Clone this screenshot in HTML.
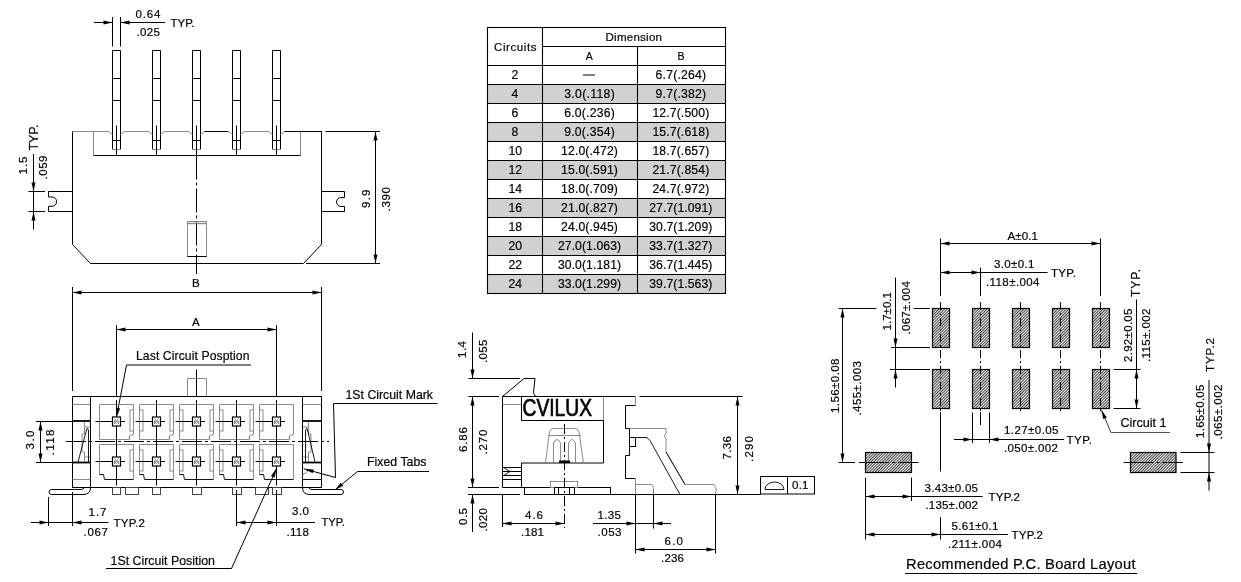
<!DOCTYPE html>
<html><head><meta charset="utf-8"><style>
html,body{margin:0;padding:0;background:#fff;}
svg{display:block;will-change:transform;}
text{font-family:"Liberation Sans",sans-serif;stroke:#000;stroke-width:0.18px;}
</style></head><body>
<svg width="1241" height="582" viewBox="0 0 1241 582">
<defs>
<pattern id="hatch" patternUnits="userSpaceOnUse" width="2" height="2" patternTransform="rotate(45)">
<rect width="2" height="2" fill="#f2f2f2"/>
<rect x="0" y="0" width="0.95" height="2" fill="#3a3a3a"/>
</pattern>
</defs>
<rect width="1241" height="582" fill="#fff"/>
<line x1="112.5" y1="50.5" x2="120.5" y2="50.5" stroke="#000" stroke-width="1"/>
<line x1="112.5" y1="50.5" x2="112.5" y2="149.5" stroke="#000" stroke-width="1"/>
<line x1="120.5" y1="50.5" x2="120.5" y2="149.5" stroke="#000" stroke-width="1"/>
<line x1="112.5" y1="78.5" x2="120.5" y2="78.5" stroke="#000" stroke-width="1"/>
<line x1="112.5" y1="100.5" x2="120.5" y2="100.5" stroke="#000" stroke-width="1"/>
<line x1="112.5" y1="140.5" x2="120.5" y2="140.5" stroke="#000" stroke-width="1"/>
<line x1="112.5" y1="149.5" x2="120.5" y2="149.5" stroke="#8a8a8a" stroke-width="1"/>
<line x1="116.5" y1="125.5" x2="116.5" y2="155" stroke="#000" stroke-width="1"/>
<line x1="108.5" y1="131.5" x2="112.5" y2="134.5" stroke="#8a8a8a" stroke-width="1"/>
<line x1="124.5" y1="131.5" x2="120.5" y2="134.5" stroke="#8a8a8a" stroke-width="1"/>
<line x1="152.5" y1="50.5" x2="160.5" y2="50.5" stroke="#000" stroke-width="1"/>
<line x1="152.5" y1="50.5" x2="152.5" y2="149.5" stroke="#000" stroke-width="1"/>
<line x1="160.5" y1="50.5" x2="160.5" y2="149.5" stroke="#000" stroke-width="1"/>
<line x1="152.5" y1="78.5" x2="160.5" y2="78.5" stroke="#000" stroke-width="1"/>
<line x1="152.5" y1="100.5" x2="160.5" y2="100.5" stroke="#000" stroke-width="1"/>
<line x1="152.5" y1="140.5" x2="160.5" y2="140.5" stroke="#000" stroke-width="1"/>
<line x1="152.5" y1="149.5" x2="160.5" y2="149.5" stroke="#8a8a8a" stroke-width="1"/>
<line x1="156.5" y1="125.5" x2="156.5" y2="155" stroke="#000" stroke-width="1"/>
<line x1="148.5" y1="131.5" x2="152.5" y2="134.5" stroke="#8a8a8a" stroke-width="1"/>
<line x1="164.5" y1="131.5" x2="160.5" y2="134.5" stroke="#8a8a8a" stroke-width="1"/>
<line x1="192.5" y1="50.5" x2="200.5" y2="50.5" stroke="#000" stroke-width="1"/>
<line x1="192.5" y1="50.5" x2="192.5" y2="149.5" stroke="#000" stroke-width="1"/>
<line x1="200.5" y1="50.5" x2="200.5" y2="149.5" stroke="#000" stroke-width="1"/>
<line x1="192.5" y1="78.5" x2="200.5" y2="78.5" stroke="#000" stroke-width="1"/>
<line x1="192.5" y1="100.5" x2="200.5" y2="100.5" stroke="#000" stroke-width="1"/>
<line x1="192.5" y1="140.5" x2="200.5" y2="140.5" stroke="#000" stroke-width="1"/>
<line x1="192.5" y1="149.5" x2="200.5" y2="149.5" stroke="#8a8a8a" stroke-width="1"/>
<line x1="196.5" y1="125.5" x2="196.5" y2="155" stroke="#000" stroke-width="1"/>
<line x1="188.5" y1="131.5" x2="192.5" y2="134.5" stroke="#8a8a8a" stroke-width="1"/>
<line x1="204.5" y1="131.5" x2="200.5" y2="134.5" stroke="#8a8a8a" stroke-width="1"/>
<line x1="232.5" y1="50.5" x2="240.5" y2="50.5" stroke="#000" stroke-width="1"/>
<line x1="232.5" y1="50.5" x2="232.5" y2="149.5" stroke="#000" stroke-width="1"/>
<line x1="240.5" y1="50.5" x2="240.5" y2="149.5" stroke="#000" stroke-width="1"/>
<line x1="232.5" y1="78.5" x2="240.5" y2="78.5" stroke="#000" stroke-width="1"/>
<line x1="232.5" y1="100.5" x2="240.5" y2="100.5" stroke="#000" stroke-width="1"/>
<line x1="232.5" y1="140.5" x2="240.5" y2="140.5" stroke="#000" stroke-width="1"/>
<line x1="232.5" y1="149.5" x2="240.5" y2="149.5" stroke="#8a8a8a" stroke-width="1"/>
<line x1="236.5" y1="125.5" x2="236.5" y2="155" stroke="#000" stroke-width="1"/>
<line x1="228.5" y1="131.5" x2="232.5" y2="134.5" stroke="#8a8a8a" stroke-width="1"/>
<line x1="244.5" y1="131.5" x2="240.5" y2="134.5" stroke="#8a8a8a" stroke-width="1"/>
<line x1="272.5" y1="50.5" x2="280.5" y2="50.5" stroke="#000" stroke-width="1"/>
<line x1="272.5" y1="50.5" x2="272.5" y2="149.5" stroke="#000" stroke-width="1"/>
<line x1="280.5" y1="50.5" x2="280.5" y2="149.5" stroke="#000" stroke-width="1"/>
<line x1="272.5" y1="78.5" x2="280.5" y2="78.5" stroke="#000" stroke-width="1"/>
<line x1="272.5" y1="100.5" x2="280.5" y2="100.5" stroke="#000" stroke-width="1"/>
<line x1="272.5" y1="140.5" x2="280.5" y2="140.5" stroke="#000" stroke-width="1"/>
<line x1="272.5" y1="149.5" x2="280.5" y2="149.5" stroke="#8a8a8a" stroke-width="1"/>
<line x1="276.5" y1="125.5" x2="276.5" y2="155" stroke="#000" stroke-width="1"/>
<line x1="268.5" y1="131.5" x2="272.5" y2="134.5" stroke="#8a8a8a" stroke-width="1"/>
<line x1="284.5" y1="131.5" x2="280.5" y2="134.5" stroke="#8a8a8a" stroke-width="1"/>
<line x1="72.5" y1="131.5" x2="108.5" y2="131.5" stroke="#8a8a8a" stroke-width="1"/>
<line x1="124.5" y1="131.5" x2="148.5" y2="131.5" stroke="#8a8a8a" stroke-width="1"/>
<line x1="164.5" y1="131.5" x2="188.5" y2="131.5" stroke="#8a8a8a" stroke-width="1"/>
<line x1="204.5" y1="131.5" x2="228.5" y2="131.5" stroke="#000" stroke-width="1"/>
<line x1="244.5" y1="131.5" x2="268.5" y2="131.5" stroke="#8a8a8a" stroke-width="1"/>
<line x1="284.5" y1="131.5" x2="322" y2="131.5" stroke="#000" stroke-width="1"/>
<line x1="93.5" y1="131.5" x2="93.5" y2="155.5" stroke="#8a8a8a" stroke-width="1"/>
<line x1="300.5" y1="131.5" x2="300.5" y2="155.5" stroke="#8a8a8a" stroke-width="1"/>
<line x1="93.5" y1="155.5" x2="300.5" y2="155.5" stroke="#000" stroke-width="1"/>
<polyline points="72.5,131.5 72.5,244.5 90.5,263.5 303.5,263.5 321.5,244.5 321.5,131.5" fill="none" stroke="#000" stroke-width="1"/>
<path d="M72.5,191.5 L48.5,191.5 L48.5,197 L52,197 A4.6,4.6 0 0 1 52,206.3 L48.5,206.3 L48.5,211.5 L72.5,211.5" fill="none" stroke="#000" stroke-width="1" />
<path d="M321.5,191.5 L344.5,191.5 L344.5,197.5 L341,197.5 A4.5,4.5 0 0 0 341,206.5 L344.5,206.5 L344.5,211.5 L321.5,211.5" fill="none" stroke="#000" stroke-width="1" />
<line x1="196.5" y1="155.5" x2="196.5" y2="274" stroke="#000" stroke-width="1" stroke-dasharray="24,3,3,3"/>
<rect x="187.5" y="221.5" width="19" height="35" fill="none" stroke="#8a8a8a" stroke-width="1"/>
<line x1="187.5" y1="223.5" x2="206.5" y2="223.5" stroke="#8a8a8a" stroke-width="1.5"/>
<line x1="187.5" y1="256.5" x2="206.5" y2="256.5" stroke="#000" stroke-width="1"/>
<line x1="112.5" y1="17" x2="112.5" y2="46.5" stroke="#000" stroke-width="1"/>
<line x1="120.5" y1="17" x2="120.5" y2="46.5" stroke="#000" stroke-width="1"/>
<line x1="94" y1="22.5" x2="112.5" y2="22.5" stroke="#000" stroke-width="1"/>
<line x1="120.5" y1="22.5" x2="165" y2="22.5" stroke="#000" stroke-width="1"/>
<polygon points="112.5,22.5 103.50,24.50 103.50,20.50" fill="#000"/>
<polygon points="120.5,22.5 129.50,20.50 129.50,24.50" fill="#000"/>
<text x="135.5" y="17.5" font-size="11.55" fill="#000" textLength="25.0" lengthAdjust="spacing">0.64</text>
<text x="136.5" y="35.5" font-size="11.55" fill="#000" textLength="23.5" lengthAdjust="spacing">.025</text>
<text x="170.5" y="26.5" font-size="11.55" fill="#000" textLength="24.0" lengthAdjust="spacingAndGlyphs">TYP.</text>
<line x1="28.5" y1="191.5" x2="45" y2="191.5" stroke="#000" stroke-width="1"/>
<line x1="28.5" y1="211.5" x2="45" y2="211.5" stroke="#000" stroke-width="1"/>
<line x1="33.5" y1="154" x2="33.5" y2="229.5" stroke="#000" stroke-width="1"/>
<polygon points="33.5,191.5 31.50,182.50 35.50,182.50" fill="#000"/>
<polygon points="33.5,211.5 35.50,220.50 31.50,220.50" fill="#000"/>
<text transform="translate(27.2,174.5) rotate(-90)" x="0" y="0" font-size="11.55" fill="#000" textLength="18.0" lengthAdjust="spacing">1.5</text>
<text transform="translate(47.2,179.5) rotate(-90)" x="0" y="0" font-size="11.55" fill="#000" textLength="24.0" lengthAdjust="spacing">.059</text>
<text transform="translate(37.7,150.5) rotate(-90)" x="0" y="0" font-size="12.600000000000001" fill="#000" textLength="26.0" lengthAdjust="spacingAndGlyphs">TYP.</text>
<line x1="325.5" y1="131.5" x2="380" y2="131.5" stroke="#000" stroke-width="1"/>
<line x1="306" y1="263.5" x2="380" y2="263.5" stroke="#000" stroke-width="1"/>
<line x1="375.5" y1="131.5" x2="375.5" y2="263.5" stroke="#000" stroke-width="1"/>
<polygon points="375.5,131.5 377.50,140.50 373.50,140.50" fill="#000"/>
<polygon points="375.5,263.5 373.50,254.50 377.50,254.50" fill="#000"/>
<text transform="translate(369.7,208.0) rotate(-90)" x="0" y="0" font-size="11.55" fill="#000" textLength="18.5" lengthAdjust="spacing">9.9</text>
<text transform="translate(389.7,211.5) rotate(-90)" x="0" y="0" font-size="11.55" fill="#000" textLength="24.5" lengthAdjust="spacing">.390</text>
<line x1="72.5" y1="287" x2="72.5" y2="391" stroke="#000" stroke-width="1"/>
<line x1="321.5" y1="287" x2="321.5" y2="391" stroke="#000" stroke-width="1"/>
<line x1="72.5" y1="292.5" x2="321.5" y2="292.5" stroke="#000" stroke-width="1"/>
<polygon points="72.5,292.5 81.50,290.50 81.50,294.50" fill="#000"/>
<polygon points="321.5,292.5 312.50,294.50 312.50,290.50" fill="#000"/>
<text x="192.0" y="287.0" font-size="11.55" fill="#000" textLength="8.0" lengthAdjust="spacing">B</text>
<line x1="116.5" y1="325" x2="116.5" y2="396.5" stroke="#000" stroke-width="1"/>
<line x1="276.5" y1="325" x2="276.5" y2="396.5" stroke="#000" stroke-width="1"/>
<line x1="116.5" y1="329.5" x2="276.5" y2="329.5" stroke="#000" stroke-width="1"/>
<polygon points="116.5,329.5 125.50,327.50 125.50,331.50" fill="#000"/>
<polygon points="276.5,329.5 267.50,331.50 267.50,327.50" fill="#000"/>
<text x="192.0" y="326.0" font-size="11.55" fill="#000" textLength="8.5" lengthAdjust="spacing">A</text>
<text x="136.0" y="360.3" font-size="12.18" fill="#000" textLength="113.5" lengthAdjust="spacing">Last Circuit Posption</text>
<line x1="126.5" y1="365" x2="251" y2="365" stroke="#000" stroke-width="1"/>
<line x1="126.5" y1="365" x2="116.5" y2="417" stroke="#000" stroke-width="1"/>
<polygon points="116.5,417 116.24,407.78 120.16,408.54" fill="#000"/>
<line x1="187.5" y1="396.5" x2="187.5" y2="378.5" stroke="#8a8a8a" stroke-width="1"/>
<line x1="187.5" y1="378.5" x2="206.5" y2="378.5" stroke="#8a8a8a" stroke-width="1"/>
<line x1="206.5" y1="378.5" x2="206.5" y2="396.5" stroke="#8a8a8a" stroke-width="1"/>
<line x1="196.5" y1="369.5" x2="196.5" y2="396.5" stroke="#000" stroke-width="1"/>
<rect x="72.5" y="396.5" width="249" height="91" fill="none" stroke="#000" stroke-width="1"/>
<line x1="90.5" y1="396.5" x2="90.5" y2="487.5" stroke="#000" stroke-width="1"/>
<line x1="302.5" y1="396.5" x2="302.5" y2="487.5" stroke="#000" stroke-width="1"/>
<line x1="72.5" y1="404.5" x2="90.5" y2="404.5" stroke="#8a8a8a" stroke-width="1"/>
<line x1="302.5" y1="404.5" x2="321.5" y2="404.5" stroke="#8a8a8a" stroke-width="1"/>
<line x1="72.5" y1="421" x2="90.5" y2="421" stroke="#000" stroke-width="1.8"/>
<line x1="302.5" y1="421" x2="321.5" y2="421" stroke="#000" stroke-width="1.8"/>
<line x1="72.5" y1="462.5" x2="90.5" y2="462.5" stroke="#000" stroke-width="1.8"/>
<line x1="302.5" y1="462.5" x2="321.5" y2="462.5" stroke="#000" stroke-width="1.8"/>
<line x1="72.5" y1="479.5" x2="90.5" y2="479.5" stroke="#8a8a8a" stroke-width="1"/>
<line x1="302.5" y1="479.5" x2="321.5" y2="479.5" stroke="#8a8a8a" stroke-width="1"/>
<path d="M84.5,422 L84.5,434 L82,434 L82,452 L84.5,452 L84.5,462 M84.5,427 L90,427 M84.5,457 L90,457" fill="none" stroke="#8a8a8a" stroke-width="1" />
<path d="M78,462 L86.5,430 Q87.5,426 88.5,431 L88.5,462" fill="none" stroke="#000" stroke-width="0.9" />
<path d="M308.5,422 L308.5,434 L311,434 L311,452 L308.5,452 L308.5,462 M303,427 L308.5,427 M303,457 L308.5,457" fill="none" stroke="#8a8a8a" stroke-width="1" />
<path d="M305.5,462 L305.5,431 Q306.5,426 307.5,430 L315,462" fill="none" stroke="#000" stroke-width="0.9" />
<path d="M99.5,404.5 L133.5,404.5 L133.5,434.5 L129.5,435.5 L129.5,439.5 L99.5,439.5 Z" fill="none" stroke="#8a8a8a" stroke-width="1" />
<path d="M99.5,474.5 L99.5,444.5 L133.5,444.5 L133.5,479.5" fill="none" stroke="#8a8a8a" stroke-width="1" />
<path d="M133.5,479.5 L104.5,479.5 L103.5,474.5 L99.5,474.5" fill="none" stroke="#111" stroke-width="1" />
<rect x="130.0" y="410" width="3.5" height="21" fill="none" stroke="#8a8a8a" stroke-width="1"/>
<rect x="130.0" y="450" width="3.5" height="21" fill="none" stroke="#8a8a8a" stroke-width="1"/>
<line x1="116.5" y1="400" x2="116.5" y2="485.5" stroke="#000" stroke-width="1"/>
<line x1="95.5" y1="421.5" x2="112.5" y2="421.5" stroke="#000" stroke-width="1"/>
<line x1="120.5" y1="421.5" x2="125.0" y2="421.5" stroke="#000" stroke-width="1"/>
<rect x="112.5" y="417.0" width="8" height="9" fill="#fff" stroke="#000" stroke-width="1.2"/>
<path d="M114.5,419.0 L116.5,420.5 L118.5,419.0 M114.5,424.0 L114.5,420.5 M118.5,424.0 L118.5,420.5" fill="none" stroke="#444" stroke-width="0.6" />
<rect x="115.5" y="421.0" width="2" height="2" fill="none" stroke="#555" stroke-width="0.5"/>
<line x1="95.5" y1="461.5" x2="112.5" y2="461.5" stroke="#000" stroke-width="1"/>
<line x1="120.5" y1="461.5" x2="125.0" y2="461.5" stroke="#000" stroke-width="1"/>
<rect x="112.5" y="457.0" width="8" height="9" fill="#fff" stroke="#000" stroke-width="1.2"/>
<path d="M114.5,459.0 L116.5,460.5 L118.5,459.0 M114.5,464.0 L114.5,460.5 M118.5,464.0 L118.5,460.5" fill="none" stroke="#444" stroke-width="0.6" />
<rect x="115.5" y="461.0" width="2" height="2" fill="none" stroke="#555" stroke-width="0.5"/>
<path d="M139.5,404.5 L173.5,404.5 L173.5,434.5 L169.5,435.5 L169.5,439.5 L139.5,439.5 Z" fill="none" stroke="#8a8a8a" stroke-width="1" />
<path d="M139.5,474.5 L139.5,444.5 L173.5,444.5 L173.5,479.5" fill="none" stroke="#8a8a8a" stroke-width="1" />
<path d="M173.5,479.5 L144.5,479.5 L143.5,474.5 L139.5,474.5" fill="none" stroke="#111" stroke-width="1" />
<rect x="170.0" y="410" width="3.5" height="21" fill="none" stroke="#8a8a8a" stroke-width="1"/>
<rect x="170.0" y="450" width="3.5" height="21" fill="none" stroke="#8a8a8a" stroke-width="1"/>
<rect x="139.5" y="410" width="3.5" height="21" fill="none" stroke="#8a8a8a" stroke-width="1"/>
<rect x="139.5" y="450" width="3.5" height="21" fill="none" stroke="#8a8a8a" stroke-width="1"/>
<line x1="156.5" y1="400" x2="156.5" y2="485.5" stroke="#000" stroke-width="1"/>
<line x1="135.5" y1="421.5" x2="152.5" y2="421.5" stroke="#000" stroke-width="1"/>
<line x1="160.5" y1="421.5" x2="165.0" y2="421.5" stroke="#000" stroke-width="1"/>
<rect x="152.5" y="417.0" width="8" height="9" fill="#fff" stroke="#000" stroke-width="1.2"/>
<path d="M154.5,419.0 L156.5,420.5 L158.5,419.0 M154.5,424.0 L154.5,420.5 M158.5,424.0 L158.5,420.5" fill="none" stroke="#444" stroke-width="0.6" />
<rect x="155.5" y="421.0" width="2" height="2" fill="none" stroke="#555" stroke-width="0.5"/>
<line x1="135.5" y1="461.5" x2="152.5" y2="461.5" stroke="#000" stroke-width="1"/>
<line x1="160.5" y1="461.5" x2="165.0" y2="461.5" stroke="#000" stroke-width="1"/>
<rect x="152.5" y="457.0" width="8" height="9" fill="#fff" stroke="#000" stroke-width="1.2"/>
<path d="M154.5,459.0 L156.5,460.5 L158.5,459.0 M154.5,464.0 L154.5,460.5 M158.5,464.0 L158.5,460.5" fill="none" stroke="#444" stroke-width="0.6" />
<rect x="155.5" y="461.0" width="2" height="2" fill="none" stroke="#555" stroke-width="0.5"/>
<path d="M179.5,404.5 L213.5,404.5 L213.5,434.5 L209.5,435.5 L209.5,439.5 L179.5,439.5 Z" fill="none" stroke="#8a8a8a" stroke-width="1" />
<path d="M179.5,474.5 L179.5,444.5 L213.5,444.5 L213.5,479.5" fill="none" stroke="#8a8a8a" stroke-width="1" />
<path d="M213.5,479.5 L184.5,479.5 L183.5,474.5 L179.5,474.5" fill="none" stroke="#111" stroke-width="1" />
<rect x="210.0" y="410" width="3.5" height="21" fill="none" stroke="#8a8a8a" stroke-width="1"/>
<rect x="210.0" y="450" width="3.5" height="21" fill="none" stroke="#8a8a8a" stroke-width="1"/>
<rect x="179.5" y="410" width="3.5" height="21" fill="none" stroke="#8a8a8a" stroke-width="1"/>
<rect x="179.5" y="450" width="3.5" height="21" fill="none" stroke="#8a8a8a" stroke-width="1"/>
<line x1="196.5" y1="400" x2="196.5" y2="485.5" stroke="#000" stroke-width="1"/>
<line x1="175.5" y1="421.5" x2="192.5" y2="421.5" stroke="#000" stroke-width="1"/>
<line x1="200.5" y1="421.5" x2="205.0" y2="421.5" stroke="#000" stroke-width="1"/>
<rect x="192.5" y="417.0" width="8" height="9" fill="#fff" stroke="#000" stroke-width="1.2"/>
<path d="M194.5,419.0 L196.5,420.5 L198.5,419.0 M194.5,424.0 L194.5,420.5 M198.5,424.0 L198.5,420.5" fill="none" stroke="#444" stroke-width="0.6" />
<rect x="195.5" y="421.0" width="2" height="2" fill="none" stroke="#555" stroke-width="0.5"/>
<line x1="175.5" y1="461.5" x2="192.5" y2="461.5" stroke="#000" stroke-width="1"/>
<line x1="200.5" y1="461.5" x2="205.0" y2="461.5" stroke="#000" stroke-width="1"/>
<rect x="192.5" y="457.0" width="8" height="9" fill="#fff" stroke="#000" stroke-width="1.2"/>
<path d="M194.5,459.0 L196.5,460.5 L198.5,459.0 M194.5,464.0 L194.5,460.5 M198.5,464.0 L198.5,460.5" fill="none" stroke="#444" stroke-width="0.6" />
<rect x="195.5" y="461.0" width="2" height="2" fill="none" stroke="#555" stroke-width="0.5"/>
<path d="M219.5,404.5 L253.5,404.5 L253.5,434.5 L249.5,435.5 L249.5,439.5 L219.5,439.5 Z" fill="none" stroke="#8a8a8a" stroke-width="1" />
<path d="M219.5,474.5 L219.5,444.5 L253.5,444.5 L253.5,479.5" fill="none" stroke="#8a8a8a" stroke-width="1" />
<path d="M253.5,479.5 L224.5,479.5 L223.5,474.5 L219.5,474.5" fill="none" stroke="#111" stroke-width="1" />
<rect x="250.0" y="410" width="3.5" height="21" fill="none" stroke="#8a8a8a" stroke-width="1"/>
<rect x="250.0" y="450" width="3.5" height="21" fill="none" stroke="#8a8a8a" stroke-width="1"/>
<rect x="219.5" y="410" width="3.5" height="21" fill="none" stroke="#8a8a8a" stroke-width="1"/>
<rect x="219.5" y="450" width="3.5" height="21" fill="none" stroke="#8a8a8a" stroke-width="1"/>
<line x1="236.5" y1="400" x2="236.5" y2="485.5" stroke="#000" stroke-width="1"/>
<line x1="215.5" y1="421.5" x2="232.5" y2="421.5" stroke="#000" stroke-width="1"/>
<line x1="240.5" y1="421.5" x2="245.0" y2="421.5" stroke="#000" stroke-width="1"/>
<rect x="232.5" y="417.0" width="8" height="9" fill="#fff" stroke="#000" stroke-width="1.2"/>
<path d="M234.5,419.0 L236.5,420.5 L238.5,419.0 M234.5,424.0 L234.5,420.5 M238.5,424.0 L238.5,420.5" fill="none" stroke="#444" stroke-width="0.6" />
<rect x="235.5" y="421.0" width="2" height="2" fill="none" stroke="#555" stroke-width="0.5"/>
<line x1="215.5" y1="461.5" x2="232.5" y2="461.5" stroke="#000" stroke-width="1"/>
<line x1="240.5" y1="461.5" x2="245.0" y2="461.5" stroke="#000" stroke-width="1"/>
<rect x="232.5" y="457.0" width="8" height="9" fill="#fff" stroke="#000" stroke-width="1.2"/>
<path d="M234.5,459.0 L236.5,460.5 L238.5,459.0 M234.5,464.0 L234.5,460.5 M238.5,464.0 L238.5,460.5" fill="none" stroke="#444" stroke-width="0.6" />
<rect x="235.5" y="461.0" width="2" height="2" fill="none" stroke="#555" stroke-width="0.5"/>
<path d="M259.5,404.5 L293.5,404.5 L293.5,434.5 L289.5,435.5 L289.5,439.5 L259.5,439.5 Z" fill="none" stroke="#8a8a8a" stroke-width="1" />
<path d="M259.5,474.5 L259.5,444.5 L293.5,444.5 L293.5,479.5" fill="none" stroke="#8a8a8a" stroke-width="1" />
<path d="M293.5,479.5 L264.5,479.5 L263.5,474.5 L259.5,474.5" fill="none" stroke="#111" stroke-width="1" />
<rect x="259.5" y="410" width="3.5" height="21" fill="none" stroke="#8a8a8a" stroke-width="1"/>
<rect x="259.5" y="450" width="3.5" height="21" fill="none" stroke="#8a8a8a" stroke-width="1"/>
<line x1="276.5" y1="400" x2="276.5" y2="485.5" stroke="#000" stroke-width="1"/>
<line x1="255.5" y1="421.5" x2="272.5" y2="421.5" stroke="#000" stroke-width="1"/>
<line x1="280.5" y1="421.5" x2="285.0" y2="421.5" stroke="#000" stroke-width="1"/>
<rect x="272.5" y="417.0" width="8" height="9" fill="#fff" stroke="#000" stroke-width="1.2"/>
<path d="M274.5,419.0 L276.5,420.5 L278.5,419.0 M274.5,424.0 L274.5,420.5 M278.5,424.0 L278.5,420.5" fill="none" stroke="#444" stroke-width="0.6" />
<rect x="275.5" y="421.0" width="2" height="2" fill="none" stroke="#555" stroke-width="0.5"/>
<line x1="255.5" y1="461.5" x2="272.5" y2="461.5" stroke="#000" stroke-width="1"/>
<line x1="280.5" y1="461.5" x2="285.0" y2="461.5" stroke="#000" stroke-width="1"/>
<rect x="272.5" y="457.0" width="8" height="9" fill="#fff" stroke="#000" stroke-width="1.2"/>
<path d="M274.5,459.0 L276.5,460.5 L278.5,459.0 M274.5,464.0 L274.5,460.5 M278.5,464.0 L278.5,460.5" fill="none" stroke="#444" stroke-width="0.6" />
<rect x="275.5" y="461.0" width="2" height="2" fill="none" stroke="#555" stroke-width="0.5"/>
<line x1="66" y1="441.5" x2="329" y2="441.5" stroke="#000" stroke-width="1" stroke-dasharray="20,3,3,3"/>
<rect x="112.5" y="487.5" width="8.0" height="7" fill="none" stroke="#444" stroke-width="1"/>
<rect x="125.5" y="487.5" width="13.0" height="7" fill="none" stroke="#444" stroke-width="1"/>
<rect x="152.5" y="487.5" width="8.0" height="7" fill="none" stroke="#444" stroke-width="1"/>
<rect x="192.5" y="487.5" width="9.0" height="7" fill="none" stroke="#444" stroke-width="1"/>
<rect x="232.5" y="487.5" width="9.0" height="7" fill="none" stroke="#444" stroke-width="1"/>
<rect x="255.5" y="487.5" width="13.0" height="7" fill="none" stroke="#444" stroke-width="1"/>
<rect x="272.5" y="487.5" width="9.0" height="7" fill="none" stroke="#444" stroke-width="1"/>
<path d="M90.5,487.5 Q90.5,494.5 83,494.5 L51.5,494.5 A2.4,2.4 0 0 1 51.5,489.5 L81,489.5 Q83,489.5 84.5,487.5" fill="none" stroke="#000" stroke-width="1" />
<path d="M302.5,487.5 Q302.5,494.5 310,494.5 L341,494.5 A2.5,2.5 0 0 0 341,489.5 L312,489.5 Q310,489.5 308.5,487.5" fill="none" stroke="#000" stroke-width="1" />
<line x1="302.5" y1="479.5" x2="321.5" y2="479.5" stroke="#000" stroke-width="1"/>
<polyline points="302.5,467 308,471 302.5,475" fill="none" stroke="#8a8a8a" stroke-width="1"/>
<line x1="36" y1="421.5" x2="72.5" y2="421.5" stroke="#000" stroke-width="1"/>
<line x1="36" y1="462.5" x2="72.5" y2="462.5" stroke="#000" stroke-width="1"/>
<line x1="40.5" y1="421.5" x2="40.5" y2="462.5" stroke="#000" stroke-width="1"/>
<polygon points="40.5,421.5 42.50,430.50 38.50,430.50" fill="#000"/>
<polygon points="40.5,462.5 38.50,453.50 42.50,453.50" fill="#000"/>
<text transform="translate(34.2,449.5) rotate(-90)" x="0" y="0" font-size="11.55" fill="#000" textLength="19.0" lengthAdjust="spacing">3.0</text>
<text transform="translate(54.2,455.5) rotate(-90)" x="0" y="0" font-size="11.55" fill="#000" textLength="26.0" lengthAdjust="spacing">.118</text>
<line x1="48.5" y1="497" x2="48.5" y2="526" stroke="#000" stroke-width="1"/>
<line x1="72.5" y1="492" x2="72.5" y2="526" stroke="#000" stroke-width="1"/>
<line x1="31" y1="522.5" x2="108.5" y2="522.5" stroke="#000" stroke-width="1"/>
<polygon points="48.5,522.5 39.50,524.50 39.50,520.50" fill="#000"/>
<polygon points="72.5,522.5 81.50,520.50 81.50,524.50" fill="#000"/>
<text x="88.5" y="516.0" font-size="11.55" fill="#000" textLength="18.0" lengthAdjust="spacing">1.7</text>
<text x="83.5" y="535.5" font-size="11.55" fill="#000" textLength="24.5" lengthAdjust="spacing">.067</text>
<text x="113.5" y="526.5" font-size="11.55" fill="#000" textLength="31.5" lengthAdjust="spacing">TYP.2</text>
<line x1="236.5" y1="490" x2="236.5" y2="526" stroke="#000" stroke-width="1"/>
<line x1="276.5" y1="490" x2="276.5" y2="526" stroke="#000" stroke-width="1"/>
<line x1="236.5" y1="522.5" x2="315" y2="522.5" stroke="#000" stroke-width="1"/>
<polygon points="236.5,522.5 245.50,520.50 245.50,524.50" fill="#000"/>
<polygon points="276.5,522.5 267.50,524.50 267.50,520.50" fill="#000"/>
<text x="292.0" y="515.0" font-size="11.55" fill="#000" textLength="17.0" lengthAdjust="spacing">3.0</text>
<text x="286.5" y="535.5" font-size="11.55" fill="#000" textLength="22.5" lengthAdjust="spacing">.118</text>
<text x="321.5" y="525.5" font-size="11.55" fill="#000" textLength="23.5" lengthAdjust="spacingAndGlyphs">TYP.</text>
<text x="110.5" y="564.5" font-size="12.600000000000001" fill="#000" textLength="104.5" lengthAdjust="spacingAndGlyphs">1St Circuit Position</text>
<line x1="106" y1="568.5" x2="231.5" y2="568.5" stroke="#000" stroke-width="1"/>
<line x1="231.5" y1="568.5" x2="276.5" y2="468.5" stroke="#000" stroke-width="1"/>
<polygon points="276.5,468.5 274.63,477.53 270.98,475.89" fill="#000"/>
<text x="345.5" y="398.5" font-size="12.600000000000001" fill="#000" textLength="87.5" lengthAdjust="spacingAndGlyphs">1St Circuit Mark</text>
<line x1="333.5" y1="403.5" x2="437.5" y2="403.5" stroke="#000" stroke-width="1"/>
<polyline points="333.5,403.5 335.5,477.5 304.5,469" fill="none" stroke="#000" stroke-width="1"/>
<polygon points="304.5,469 313.71,469.45 312.65,473.31" fill="#000"/>
<text x="367.0" y="466.0" font-size="12.600000000000001" fill="#000" textLength="59.5" lengthAdjust="spacingAndGlyphs">Fixed Tabs</text>
<line x1="357.5" y1="471.5" x2="429" y2="471.5" stroke="#000" stroke-width="1"/>
<line x1="357.5" y1="471.5" x2="335" y2="490" stroke="#000" stroke-width="1"/>
<polygon points="335,490 340.68,482.74 343.22,485.83" fill="#000"/>
<rect x="487.5" y="84.5" width="238.0" height="19" fill="#d1d1d3"/>
<rect x="487.5" y="122.5" width="238.0" height="19" fill="#d1d1d3"/>
<rect x="487.5" y="160.5" width="238.0" height="19" fill="#d1d1d3"/>
<rect x="487.5" y="198.5" width="238.0" height="19" fill="#d1d1d3"/>
<rect x="487.5" y="236.5" width="238.0" height="19" fill="#d1d1d3"/>
<rect x="487.5" y="274.5" width="238.0" height="19" fill="#d1d1d3"/>
<rect x="487.5" y="27.5" width="238.0" height="266.0" fill="none" stroke="#000" stroke-width="1.1"/>
<line x1="542.5" y1="27.5" x2="542.5" y2="293.5" stroke="#000" stroke-width="1.1"/>
<line x1="637.5" y1="46.5" x2="637.5" y2="293.5" stroke="#000" stroke-width="1.1"/>
<line x1="542.5" y1="46.5" x2="725.5" y2="46.5" stroke="#000" stroke-width="1.1"/>
<line x1="487.5" y1="65.5" x2="725.5" y2="65.5" stroke="#000" stroke-width="1.1"/>
<line x1="487.5" y1="84.5" x2="725.5" y2="84.5" stroke="#000" stroke-width="1.1"/>
<line x1="487.5" y1="103.5" x2="725.5" y2="103.5" stroke="#000" stroke-width="1.1"/>
<line x1="487.5" y1="122.5" x2="725.5" y2="122.5" stroke="#000" stroke-width="1.1"/>
<line x1="487.5" y1="141.5" x2="725.5" y2="141.5" stroke="#000" stroke-width="1.1"/>
<line x1="487.5" y1="160.5" x2="725.5" y2="160.5" stroke="#000" stroke-width="1.1"/>
<line x1="487.5" y1="179.5" x2="725.5" y2="179.5" stroke="#000" stroke-width="1.1"/>
<line x1="487.5" y1="198.5" x2="725.5" y2="198.5" stroke="#000" stroke-width="1.1"/>
<line x1="487.5" y1="217.5" x2="725.5" y2="217.5" stroke="#000" stroke-width="1.1"/>
<line x1="487.5" y1="236.5" x2="725.5" y2="236.5" stroke="#000" stroke-width="1.1"/>
<line x1="487.5" y1="255.5" x2="725.5" y2="255.5" stroke="#000" stroke-width="1.1"/>
<line x1="487.5" y1="274.5" x2="725.5" y2="274.5" stroke="#000" stroke-width="1.1"/>
<text x="494.0" y="50.5" font-size="11.55" fill="#000" textLength="42.5" lengthAdjust="spacing">Circuits</text>
<text x="605.5" y="40.8" font-size="11.55" fill="#000" textLength="56.5" lengthAdjust="spacing">Dimension</text>
<text x="585.8" y="59.8" font-size="10.5" fill="#000" textLength="8.2" lengthAdjust="spacing">A</text>
<text x="677.5" y="59.8" font-size="10.5" fill="#000" textLength="7.3" lengthAdjust="spacing">B</text>
<text x="511.55" y="78.5" font-size="12.18" fill="#000" textLength="7.3" lengthAdjust="spacing">2</text>
<line x1="583" y1="75.0" x2="595" y2="75.0" stroke="#000" stroke-width="1"/>
<text x="655.55" y="78.5" font-size="12.18" fill="#000" textLength="50.5" lengthAdjust="spacing">6.7(.264)</text>
<text x="511.55" y="97.5" font-size="12.18" fill="#000" textLength="7.3" lengthAdjust="spacing">4</text>
<text x="564.25" y="97.5" font-size="12.18" fill="#000" textLength="50.5" lengthAdjust="spacing">3.0(.118)</text>
<text x="655.55" y="97.5" font-size="12.18" fill="#000" textLength="50.5" lengthAdjust="spacing">9.7(.382)</text>
<text x="511.55" y="116.5" font-size="12.18" fill="#000" textLength="7.3" lengthAdjust="spacing">6</text>
<text x="564.25" y="116.5" font-size="12.18" fill="#000" textLength="50.5" lengthAdjust="spacing">6.0(.236)</text>
<text x="652.4" y="116.5" font-size="12.18" fill="#000" textLength="56.8" lengthAdjust="spacing">12.7(.500)</text>
<text x="511.55" y="135.5" font-size="12.18" fill="#000" textLength="7.3" lengthAdjust="spacing">8</text>
<text x="564.25" y="135.5" font-size="12.18" fill="#000" textLength="50.5" lengthAdjust="spacing">9.0(.354)</text>
<text x="652.4" y="135.5" font-size="12.18" fill="#000" textLength="56.8" lengthAdjust="spacing">15.7(.618)</text>
<text x="508.4" y="154.5" font-size="12.18" fill="#000" textLength="13.6" lengthAdjust="spacingAndGlyphs">10</text>
<text x="561.1" y="154.5" font-size="12.18" fill="#000" textLength="56.8" lengthAdjust="spacing">12.0(.472)</text>
<text x="652.4" y="154.5" font-size="12.18" fill="#000" textLength="56.8" lengthAdjust="spacing">18.7(.657)</text>
<text x="508.4" y="173.5" font-size="12.18" fill="#000" textLength="13.6" lengthAdjust="spacingAndGlyphs">12</text>
<text x="561.1" y="173.5" font-size="12.18" fill="#000" textLength="56.8" lengthAdjust="spacing">15.0(.591)</text>
<text x="652.4" y="173.5" font-size="12.18" fill="#000" textLength="56.8" lengthAdjust="spacing">21.7(.854)</text>
<text x="508.4" y="192.5" font-size="12.18" fill="#000" textLength="13.6" lengthAdjust="spacingAndGlyphs">14</text>
<text x="561.1" y="192.5" font-size="12.18" fill="#000" textLength="56.8" lengthAdjust="spacing">18.0(.709)</text>
<text x="652.4" y="192.5" font-size="12.18" fill="#000" textLength="56.8" lengthAdjust="spacing">24.7(.972)</text>
<text x="508.4" y="211.5" font-size="12.18" fill="#000" textLength="13.6" lengthAdjust="spacingAndGlyphs">16</text>
<text x="561.1" y="211.5" font-size="12.18" fill="#000" textLength="56.8" lengthAdjust="spacing">21.0(.827)</text>
<text x="649.25" y="211.5" font-size="12.18" fill="#000" textLength="63.1" lengthAdjust="spacing">27.7(1.091)</text>
<text x="508.4" y="230.5" font-size="12.18" fill="#000" textLength="13.6" lengthAdjust="spacingAndGlyphs">18</text>
<text x="561.1" y="230.5" font-size="12.18" fill="#000" textLength="56.8" lengthAdjust="spacing">24.0(.945)</text>
<text x="649.25" y="230.5" font-size="12.18" fill="#000" textLength="63.1" lengthAdjust="spacing">30.7(1.209)</text>
<text x="508.4" y="249.5" font-size="12.18" fill="#000" textLength="13.6" lengthAdjust="spacingAndGlyphs">20</text>
<text x="557.95" y="249.5" font-size="12.18" fill="#000" textLength="63.1" lengthAdjust="spacing">27.0(1.063)</text>
<text x="649.25" y="249.5" font-size="12.18" fill="#000" textLength="63.1" lengthAdjust="spacing">33.7(1.327)</text>
<text x="508.4" y="268.5" font-size="12.18" fill="#000" textLength="13.6" lengthAdjust="spacingAndGlyphs">22</text>
<text x="557.95" y="268.5" font-size="12.18" fill="#000" textLength="63.1" lengthAdjust="spacing">30.0(1.181)</text>
<text x="649.25" y="268.5" font-size="12.18" fill="#000" textLength="63.1" lengthAdjust="spacing">36.7(1.445)</text>
<text x="508.4" y="287.5" font-size="12.18" fill="#000" textLength="13.6" lengthAdjust="spacingAndGlyphs">24</text>
<text x="557.95" y="287.5" font-size="12.18" fill="#000" textLength="63.1" lengthAdjust="spacing">33.0(1.299)</text>
<text x="649.25" y="287.5" font-size="12.18" fill="#000" textLength="63.1" lengthAdjust="spacing">39.7(1.563)</text>
<line x1="468.5" y1="378.5" x2="520" y2="378.5" stroke="#000" stroke-width="1"/>
<line x1="468.5" y1="396.5" x2="499" y2="396.5" stroke="#000" stroke-width="1"/>
<line x1="468" y1="487.5" x2="499" y2="487.5" stroke="#000" stroke-width="1"/>
<line x1="468" y1="494.5" x2="520" y2="494.5" stroke="#000" stroke-width="1"/>
<path d="M502.5,396.5 L524,378.5 L535,378.5 L533.5,392.5 Q534,396.5 537,396.5" fill="none" stroke="#000" stroke-width="1" />
<line x1="502.5" y1="396.5" x2="635.5" y2="396.5" stroke="#000" stroke-width="1"/>
<line x1="639.5" y1="396.5" x2="742.5" y2="396.5" stroke="#000" stroke-width="1"/>
<line x1="502.5" y1="396.5" x2="502.5" y2="487.5" stroke="#000" stroke-width="1"/>
<line x1="502.5" y1="404.5" x2="521.5" y2="404.5" stroke="#8a8a8a" stroke-width="1"/>
<line x1="521.5" y1="396.5" x2="521.5" y2="420.5" stroke="#000" stroke-width="1"/>
<line x1="521.5" y1="420.5" x2="603.5" y2="420.5" stroke="#000" stroke-width="1"/>
<line x1="603.5" y1="396.5" x2="603.5" y2="420.5" stroke="#8a8a8a" stroke-width="1"/>
<text style="stroke-width:0.7px" x="522.5" y="415.8" font-size="23.94" fill="#000" textLength="69.5" lengthAdjust="spacingAndGlyphs">CVILUX</text>
<line x1="603.5" y1="420.5" x2="603.5" y2="463" stroke="#000" stroke-width="1"/>
<line x1="521.5" y1="463" x2="603.5" y2="463" stroke="#000" stroke-width="1"/>
<line x1="521.5" y1="463" x2="521.5" y2="487.5" stroke="#000" stroke-width="1"/>
<line x1="502.5" y1="467.5" x2="521.5" y2="467.5" stroke="#000" stroke-width="1"/>
<line x1="502.5" y1="471.5" x2="521.5" y2="471.5" stroke="#000" stroke-width="1"/>
<line x1="502.5" y1="475.5" x2="521.5" y2="475.5" stroke="#000" stroke-width="1"/>
<line x1="502.5" y1="479.5" x2="521.5" y2="479.5" stroke="#000" stroke-width="1"/>
<polyline points="503.5,467.5 510,471.5 503.5,475.5" fill="none" stroke="#000" stroke-width="0.9"/>
<line x1="502.5" y1="487.5" x2="610.5" y2="487.5" stroke="#000" stroke-width="1"/>
<rect x="524.5" y="487.5" width="86" height="7" fill="none" stroke="#000" stroke-width="1"/>
<rect x="550.5" y="481.5" width="27" height="6" fill="none" stroke="#8a8a8a" stroke-width="1"/>
<rect x="554.5" y="487.5" width="20" height="7" fill="none" stroke="#000" stroke-width="1"/>
<line x1="558.5" y1="487.5" x2="558.5" y2="494.5" stroke="#000" stroke-width="1"/>
<line x1="569.5" y1="487.5" x2="569.5" y2="494.5" stroke="#000" stroke-width="1"/>
<path d="M545.5,463 L549.5,431.5 Q550.5,428.5 554,428.5 L575,428.5 Q578.5,428.5 579,432 L583.5,463" fill="none" stroke="#8a8a8a" stroke-width="1" />
<line x1="548.5" y1="435.5" x2="581" y2="435.5" stroke="#8a8a8a" stroke-width="1"/>
<path d="M553.5,463 L553.5,443 Q557,436 560.5,443 L560.5,463" fill="none" stroke="#8a8a8a" stroke-width="1" />
<path d="M568.5,463 L568.5,443 Q572,436 575.5,443 L575.5,463" fill="none" stroke="#8a8a8a" stroke-width="1" />
<rect x="559" y="460.5" width="11" height="2.5" fill="#000"/>
<line x1="564.5" y1="424" x2="564.5" y2="528" stroke="#000" stroke-width="1" stroke-dasharray="10,3,2,3"/>
<line x1="635.5" y1="396.5" x2="635.5" y2="405.5" stroke="#8a8a8a" stroke-width="1"/>
<polyline points="635.5,405.5 625.5,405.5 625.5,428.5 629.5,428.5 629.5,455.5 625.5,455.5 625.5,478.5 635.5,478.5" fill="none" stroke="#000" stroke-width="1"/>
<line x1="635.5" y1="478.5" x2="635.5" y2="494.5" stroke="#8a8a8a" stroke-width="1"/>
<rect x="629.5" y="437.5" width="6" height="9" fill="none" stroke="#000" stroke-width="1"/>
<path d="M629.5,428.5 L666,428.5 L666,433 Q663,436 666,439 L666,452 L685,484.5 L713,484.5 Q716,485 716,490 L715.5,494.5" fill="none" stroke="#8a8a8a" stroke-width="1" />
<path d="M635.5,437.5 L646,437.5 Q648,437.5 650,440.5 L680,494.5" fill="none" stroke="#000" stroke-width="0.9" />
<path d="M666,452 L685,484.5" fill="none" stroke="#000" stroke-width="0.9" />
<path d="M635.5,484.5 L651.5,484.5 Q653.5,485 653.5,489 L653.5,494.5" fill="none" stroke="#8a8a8a" stroke-width="1" />
<line x1="524" y1="494.5" x2="760.5" y2="494.5" stroke="#000" stroke-width="1"/>
<line x1="472.5" y1="332.5" x2="472.5" y2="378.5" stroke="#000" stroke-width="1"/>
<polygon points="472.5,378.5 470.50,369.50 474.50,369.50" fill="#000"/>
<line x1="472.5" y1="396.5" x2="472.5" y2="487.5" stroke="#000" stroke-width="1"/>
<polygon points="472.5,396.5 474.50,405.50 470.50,405.50" fill="#000"/>
<polygon points="472.5,487.5 470.50,478.50 474.50,478.50" fill="#000"/>
<line x1="472.5" y1="494.5" x2="472.5" y2="532" stroke="#000" stroke-width="1"/>
<polygon points="472.5,494.5 474.50,503.50 470.50,503.50" fill="#000"/>
<text transform="translate(465.7,358.0) rotate(-90)" x="0" y="0" font-size="11.55" fill="#000" textLength="17.0" lengthAdjust="spacing">1.4</text>
<text transform="translate(486.7,363.0) rotate(-90)" x="0" y="0" font-size="11.55" fill="#000" textLength="23.5" lengthAdjust="spacing">.055</text>
<text transform="translate(466.7,452.0) rotate(-90)" x="0" y="0" font-size="11.55" fill="#000" textLength="25.0" lengthAdjust="spacing">6.86</text>
<text transform="translate(486.7,454.5) rotate(-90)" x="0" y="0" font-size="11.55" fill="#000" textLength="25.0" lengthAdjust="spacing">.270</text>
<text transform="translate(466.7,525.0) rotate(-90)" x="0" y="0" font-size="11.55" fill="#000" textLength="17.0" lengthAdjust="spacing">0.5</text>
<text transform="translate(486.7,531.5) rotate(-90)" x="0" y="0" font-size="11.55" fill="#000" textLength="23.5" lengthAdjust="spacing">.020</text>
<line x1="737.5" y1="396.5" x2="737.5" y2="494.5" stroke="#000" stroke-width="1"/>
<polygon points="737.5,396.5 739.50,405.50 735.50,405.50" fill="#000"/>
<polygon points="737.5,494.5 735.50,485.50 739.50,485.50" fill="#000"/>
<text transform="translate(730.7,459.5) rotate(-90)" x="0" y="0" font-size="11.55" fill="#000" textLength="23.5" lengthAdjust="spacing">7.36</text>
<text transform="translate(752.7,462.0) rotate(-90)" x="0" y="0" font-size="11.55" fill="#000" textLength="26.0" lengthAdjust="spacing">.290</text>
<rect x="760.5" y="476.5" width="54" height="17.5" fill="none" stroke="#000" stroke-width="1"/>
<line x1="787.5" y1="476.5" x2="787.5" y2="494" stroke="#000" stroke-width="1"/>
<path d="M765,489.5 A9.5,7.5 0 0 1 784,489.5 Z" fill="none" stroke="#000" stroke-width="0.9" />
<text x="792.0" y="489.0" font-size="11.55" fill="#000" textLength="16.5" lengthAdjust="spacing">0.1</text>
<line x1="502.5" y1="494.5" x2="502.5" y2="527" stroke="#000" stroke-width="1"/>
<line x1="502.5" y1="523.5" x2="564.5" y2="523.5" stroke="#000" stroke-width="1"/>
<polygon points="502.5,523.5 511.50,521.50 511.50,525.50" fill="#000"/>
<polygon points="564.5,523.5 555.50,525.50 555.50,521.50" fill="#000"/>
<text x="525.0" y="519.0" font-size="11.55" fill="#000" textLength="18.0" lengthAdjust="spacing">4.6</text>
<text x="521.0" y="536.0" font-size="11.55" fill="#000" textLength="23.0" lengthAdjust="spacing">.181</text>
<line x1="635.5" y1="494.5" x2="635.5" y2="553.5" stroke="#000" stroke-width="1"/>
<line x1="653.5" y1="494.5" x2="653.5" y2="528.5" stroke="#000" stroke-width="1"/>
<line x1="593" y1="523.5" x2="671" y2="523.5" stroke="#000" stroke-width="1"/>
<polygon points="635.5,523.5 626.50,525.50 626.50,521.50" fill="#000"/>
<polygon points="653.5,523.5 662.50,521.50 662.50,525.50" fill="#000"/>
<text x="597.5" y="519.0" font-size="11.55" fill="#000" textLength="23.5" lengthAdjust="spacing">1.35</text>
<text x="597.5" y="536.0" font-size="11.55" fill="#000" textLength="24.0" lengthAdjust="spacing">.053</text>
<line x1="715.5" y1="494.5" x2="715.5" y2="553.5" stroke="#000" stroke-width="1"/>
<line x1="635.5" y1="549.5" x2="715.5" y2="549.5" stroke="#000" stroke-width="1"/>
<polygon points="635.5,549.5 644.50,547.50 644.50,551.50" fill="#000"/>
<polygon points="715.5,549.5 706.50,551.50 706.50,547.50" fill="#000"/>
<text x="664.5" y="544.5" font-size="11.55" fill="#000" textLength="18.5" lengthAdjust="spacing">6.0</text>
<text x="661.0" y="561.5" font-size="11.55" fill="#000" textLength="23.0" lengthAdjust="spacing">.236</text>
<rect x="932.5" y="308.5" width="17" height="39" fill="url(#hatch)" stroke="#000" stroke-width="1.2"/>
<rect x="932.5" y="369.5" width="17" height="39" fill="url(#hatch)" stroke="#000" stroke-width="1.2"/>
<line x1="940.5" y1="238.5" x2="940.5" y2="296" stroke="#000" stroke-width="1"/>
<line x1="940.5" y1="412" x2="940.5" y2="471.5" stroke="#000" stroke-width="1"/>
<line x1="940.5" y1="302" x2="940.5" y2="412" stroke="#000" stroke-width="1" stroke-dasharray="8,3,2,3"/>
<rect x="972.5" y="308.5" width="17" height="39" fill="url(#hatch)" stroke="#000" stroke-width="1.2"/>
<rect x="972.5" y="369.5" width="17" height="39" fill="url(#hatch)" stroke="#000" stroke-width="1.2"/>
<line x1="980.5" y1="267.5" x2="980.5" y2="296" stroke="#000" stroke-width="1"/>
<line x1="980.5" y1="412" x2="980.5" y2="425" stroke="#000" stroke-width="1"/>
<line x1="980.5" y1="302" x2="980.5" y2="412" stroke="#000" stroke-width="1" stroke-dasharray="8,3,2,3"/>
<rect x="1012.5" y="308.5" width="17" height="39" fill="url(#hatch)" stroke="#000" stroke-width="1.2"/>
<rect x="1012.5" y="369.5" width="17" height="39" fill="url(#hatch)" stroke="#000" stroke-width="1.2"/>
<line x1="1020.5" y1="302" x2="1020.5" y2="412" stroke="#000" stroke-width="1" stroke-dasharray="8,3,2,3"/>
<rect x="1052.5" y="308.5" width="17" height="39" fill="url(#hatch)" stroke="#000" stroke-width="1.2"/>
<rect x="1052.5" y="369.5" width="17" height="39" fill="url(#hatch)" stroke="#000" stroke-width="1.2"/>
<line x1="1060.5" y1="302" x2="1060.5" y2="412" stroke="#000" stroke-width="1" stroke-dasharray="8,3,2,3"/>
<rect x="1092.5" y="308.5" width="17" height="39" fill="url(#hatch)" stroke="#000" stroke-width="1.2"/>
<rect x="1092.5" y="369.5" width="17" height="39" fill="url(#hatch)" stroke="#000" stroke-width="1.2"/>
<line x1="1100.5" y1="238.5" x2="1100.5" y2="296" stroke="#000" stroke-width="1"/>
<line x1="1100.5" y1="302" x2="1100.5" y2="412" stroke="#000" stroke-width="1" stroke-dasharray="8,3,2,3"/>
<line x1="940.5" y1="243.5" x2="1100.5" y2="243.5" stroke="#000" stroke-width="1"/>
<polygon points="940.5,243.5 949.50,241.50 949.50,245.50" fill="#000"/>
<polygon points="1100.5,243.5 1091.50,245.50 1091.50,241.50" fill="#000"/>
<text x="1007.5" y="239.5" font-size="11.55" fill="#000" textLength="30.5" lengthAdjust="spacing">A±0.1</text>
<line x1="940.5" y1="272.5" x2="1047.5" y2="272.5" stroke="#000" stroke-width="1"/>
<polygon points="940.5,272.5 949.50,270.50 949.50,274.50" fill="#000"/>
<polygon points="980.5,272.5 971.50,274.50 971.50,270.50" fill="#000"/>
<text x="994.0" y="267.5" font-size="11.55" fill="#000" textLength="40.5" lengthAdjust="spacing">3.0±0.1</text>
<text x="986.0" y="286.0" font-size="11.55" fill="#000" textLength="53.5" lengthAdjust="spacing">.118±.004</text>
<text x="1051.0" y="277.0" font-size="11.55" fill="#000" textLength="25.0" lengthAdjust="spacing">TYP.</text>
<line x1="913.5" y1="308.5" x2="930" y2="308.5" stroke="#000" stroke-width="1"/>
<line x1="891" y1="347.5" x2="930" y2="347.5" stroke="#000" stroke-width="1"/>
<line x1="890" y1="369.5" x2="930" y2="369.5" stroke="#000" stroke-width="1"/>
<line x1="895.5" y1="277.5" x2="895.5" y2="387.5" stroke="#000" stroke-width="1"/>
<polygon points="895.5,347.5 893.50,338.50 897.50,338.50" fill="#000"/>
<polygon points="895.5,369.5 897.50,378.50 893.50,378.50" fill="#000"/>
<text transform="translate(891.2,330.5) rotate(-90)" x="0" y="0" font-size="11.55" fill="#000" textLength="38.5" lengthAdjust="spacing">1.7±0.1</text>
<text transform="translate(910.2,334.5) rotate(-90)" x="0" y="0" font-size="11.55" fill="#000" textLength="53.5" lengthAdjust="spacing">.067±.004</text>
<line x1="838.5" y1="308.5" x2="876.5" y2="308.5" stroke="#000" stroke-width="1"/>
<line x1="842.5" y1="308.5" x2="842.5" y2="462.5" stroke="#000" stroke-width="1"/>
<polygon points="842.5,308.5 844.50,317.50 840.50,317.50" fill="#000"/>
<polygon points="842.5,462.5 840.50,453.50 844.50,453.50" fill="#000"/>
<line x1="838.5" y1="462.5" x2="855" y2="462.5" stroke="#000" stroke-width="1"/>
<text transform="translate(838.7,413.0) rotate(-90)" x="0" y="0" font-size="11.55" fill="#000" textLength="54.5" lengthAdjust="spacing">1.56±0.08</text>
<text transform="translate(861.2,415.5) rotate(-90)" x="0" y="0" font-size="11.55" fill="#000" textLength="54.5" lengthAdjust="spacing">.455±.003</text>
<rect x="865.5" y="452.5" width="46" height="20" fill="url(#hatch)" stroke="#000" stroke-width="1.2"/>
<rect x="1130.5" y="452.5" width="45.5" height="20" fill="url(#hatch)" stroke="#000" stroke-width="1.2"/>
<line x1="859" y1="462.5" x2="918.5" y2="462.5" stroke="#000" stroke-width="1" stroke-dasharray="30,3,3,3"/>
<line x1="1123.5" y1="462.5" x2="1183" y2="462.5" stroke="#000" stroke-width="1" stroke-dasharray="30,3,3,3"/>
<line x1="1113.5" y1="369.5" x2="1140.5" y2="369.5" stroke="#000" stroke-width="1"/>
<line x1="1113.5" y1="408.5" x2="1140.5" y2="408.5" stroke="#000" stroke-width="1"/>
<line x1="1136.5" y1="299.5" x2="1136.5" y2="408.5" stroke="#000" stroke-width="1"/>
<polygon points="1136.5,369.5 1138.50,378.50 1134.50,378.50" fill="#000"/>
<polygon points="1136.5,408.5 1134.50,399.50 1138.50,399.50" fill="#000"/>
<text transform="translate(1140.2,297.0) rotate(-90)" x="0" y="0" font-size="12.075000000000001" fill="#000" textLength="28.0" lengthAdjust="spacing">TYP.</text>
<text transform="translate(1132.2,362.0) rotate(-90)" x="0" y="0" font-size="11.55" fill="#000" textLength="53.5" lengthAdjust="spacing">2.92±0.05</text>
<text transform="translate(1150.2,362.0) rotate(-90)" x="0" y="0" font-size="11.55" fill="#000" textLength="53.5" lengthAdjust="spacing">.115±.002</text>
<text x="1120.5" y="427.0" font-size="12.600000000000001" fill="#000" textLength="46.0" lengthAdjust="spacing">Circuit 1</text>
<line x1="1111" y1="432.5" x2="1170" y2="432.5" stroke="#555" stroke-width="1"/>
<line x1="1111" y1="432.5" x2="1101.5" y2="410" stroke="#333" stroke-width="1"/>
<polygon points="1101.5,410 1106.84,417.51 1103.16,419.07" fill="#000"/>
<line x1="972.5" y1="412.5" x2="972.5" y2="443" stroke="#000" stroke-width="1"/>
<line x1="989.5" y1="412.5" x2="989.5" y2="443" stroke="#000" stroke-width="1"/>
<line x1="954" y1="439.5" x2="1064" y2="439.5" stroke="#000" stroke-width="1"/>
<polygon points="972.5,439.5 963.50,441.50 963.50,437.50" fill="#000"/>
<polygon points="989.5,439.5 998.50,437.50 998.50,441.50" fill="#000"/>
<text x="1004.0" y="434.0" font-size="11.55" fill="#000" textLength="54.5" lengthAdjust="spacing">1.27±0.05</text>
<text x="1004.0" y="452.0" font-size="11.55" fill="#000" textLength="54.0" lengthAdjust="spacing">.050±.002</text>
<text x="1066.5" y="443.5" font-size="11.55" fill="#000" textLength="25.5" lengthAdjust="spacing">TYP.</text>
<line x1="1180.5" y1="452.5" x2="1214.5" y2="452.5" stroke="#000" stroke-width="1"/>
<line x1="1180.5" y1="472.5" x2="1214.5" y2="472.5" stroke="#000" stroke-width="1"/>
<line x1="1209" y1="380" x2="1209" y2="490.5" stroke="#000" stroke-width="1"/>
<polygon points="1209,452.5 1207.00,443.50 1211.00,443.50" fill="#000"/>
<polygon points="1209,472.5 1211.00,481.50 1207.00,481.50" fill="#000"/>
<text transform="translate(1214.2,372.0) rotate(-90)" x="0" y="0" font-size="11.55" fill="#000" textLength="34.0" lengthAdjust="spacing">TYP.2</text>
<text transform="translate(1204.2,438.0) rotate(-90)" x="0" y="0" font-size="11.55" fill="#000" textLength="53.5" lengthAdjust="spacing">1.65±0.05</text>
<text transform="translate(1221.7,439.5) rotate(-90)" x="0" y="0" font-size="11.55" fill="#000" textLength="55.0" lengthAdjust="spacing">.065±.002</text>
<line x1="865.5" y1="477.5" x2="865.5" y2="539.5" stroke="#000" stroke-width="1"/>
<line x1="911.5" y1="477.5" x2="911.5" y2="501" stroke="#000" stroke-width="1"/>
<line x1="865.5" y1="496.5" x2="982.5" y2="496.5" stroke="#000" stroke-width="1"/>
<polygon points="865.5,496.5 874.50,494.50 874.50,498.50" fill="#000"/>
<polygon points="911.5,496.5 902.50,498.50 902.50,494.50" fill="#000"/>
<text x="924.5" y="491.5" font-size="11.55" fill="#000" textLength="53.5" lengthAdjust="spacing">3.43±0.05</text>
<text x="925.5" y="509.0" font-size="11.55" fill="#000" textLength="52.5" lengthAdjust="spacing">.135±.002</text>
<text x="988.5" y="500.5" font-size="11.55" fill="#000" textLength="31.5" lengthAdjust="spacing">TYP.2</text>
<line x1="940.5" y1="517" x2="940.5" y2="539.5" stroke="#000" stroke-width="1"/>
<line x1="865.5" y1="534.5" x2="1008" y2="534.5" stroke="#000" stroke-width="1"/>
<polygon points="865.5,534.5 874.50,532.50 874.50,536.50" fill="#000"/>
<polygon points="940.5,534.5 931.50,536.50 931.50,532.50" fill="#000"/>
<text x="951.5" y="529.5" font-size="11.55" fill="#000" textLength="47.0" lengthAdjust="spacing">5.61±0.1</text>
<text x="948.0" y="547.5" font-size="11.55" fill="#000" textLength="54.0" lengthAdjust="spacing">.211±.004</text>
<text x="1011.5" y="539.0" font-size="11.55" fill="#000" textLength="31.5" lengthAdjust="spacing">TYP.2</text>
<text x="906.0" y="569.2" font-size="14.700000000000001" fill="#000" textLength="229.5" lengthAdjust="spacing">Recommended P.C. Board Layout</text>
<line x1="905" y1="573.5" x2="1137" y2="573.5" stroke="#000" stroke-width="1"/>
</svg>
</body></html>
